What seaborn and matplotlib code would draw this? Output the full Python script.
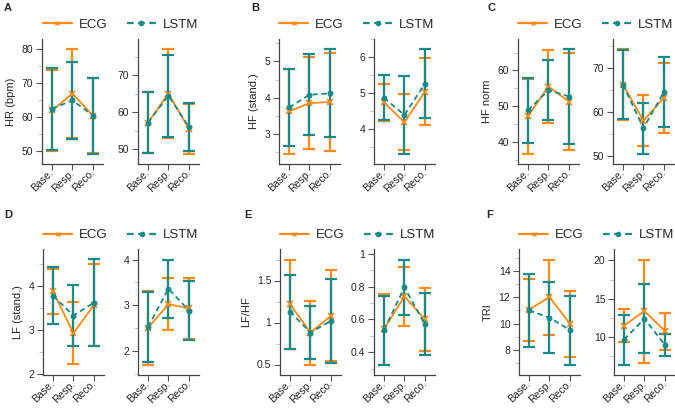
import matplotlib
matplotlib.use("Agg")
import matplotlib.pyplot as plt
import seaborn as sns
import pandas as pd
from matplotlib.lines import Line2D
from matplotlib.ticker import MultipleLocator, FuncFormatter

phases = ["Base.", "Resp.", "Reco."]

# mean and sd for each panel: [left subplot, right subplot]
hr_ecg = [[62.0, 67.0, 60.5], [57.2, 65.0, 55.5]]
hr_ecg_sd = [[12.0, 13.0, 11.0], [8.2, 12.0, 6.7]]
hr_lstm = [[62.5, 65.0, 60.5], [57.2, 64.5, 56.0]]
hr_lstm_sd = [[12.0, 11.4, 11.2], [8.2, 11.1, 6.6]]

hf_ecg = [[3.62, 3.85, 3.88], [4.75, 4.20, 5.05]]
hf_ecg_sd = [[1.16, 1.27, 1.34], [0.52, 0.77, 0.94]]
hf_lstm = [[3.73, 4.08, 4.12], [4.88, 4.40, 5.27]]
hf_lstm_sd = [[1.07, 1.11, 1.21], [0.63, 1.07, 0.95]]

hfn_ecg = [[47.2, 55.5, 51.3], [66.2, 58.0, 63.2]]
hfn_ecg_sd = [[10.5, 10.3, 13.5], [8.0, 5.8, 8.0]]
hfn_lstm = [[48.8, 54.5, 52.7], [66.2, 56.3, 64.5]]
hfn_lstm_sd = [[9.0, 8.3, 13.2], [7.9, 5.8, 7.9]]

lf_ecg = [[3.88, 2.93, 3.57], [2.50, 3.02, 2.93]]
lf_ecg_sd = [[0.51, 0.71, 0.93], [0.80, 0.57, 0.67]]
lf_lstm = [[3.78, 3.33, 3.62], [2.52, 3.36, 2.88]]
lf_lstm_sd = [[0.65, 0.69, 0.98], [0.76, 0.64, 0.65]]

lfhf_ecg = [[1.22, 0.88, 1.08], [0.54, 0.74, 0.60]]
lfhf_ecg_sd = [[0.53, 0.38, 0.54], [0.215, 0.18, 0.19]]
lfhf_lstm = [[1.13, 0.88, 1.02], [0.535, 0.795, 0.57]]
lfhf_lstm_sd = [[0.44, 0.32, 0.50], [0.21, 0.17, 0.19]]

tri_ecg = [[11.05, 12.0, 10.0], [11.5, 13.4, 10.8]]
tri_ecg_sd = [[2.35, 2.85, 2.5], [2.15, 6.7, 2.4]]
tri_lstm = [[11.0, 10.45, 9.5], [9.7, 12.4, 9.0]]
tri_lstm_sd = [[2.75, 2.67, 2.6], [3.25, 4.5, 1.4]]

ORANGE = "#ff8a14"
TEAL = "#168989"

sns.set_style("ticks")
plt.rcParams["font.family"] = ["Liberation Sans", "DejaVu Sans"]
plt.rcParams["font.size"] = 7.5

W, H = 675, 408
fig = plt.figure(figsize=(W / 100, H / 100), dpi=100)

panels = [
    ("A", "HR (bpm)", hr_ecg, hr_ecg_sd, hr_lstm, hr_lstm_sd, [10, 10], [41.7, 137.7], 0),
    ("B", "HF (stand.)", hf_ecg, hf_ecg_sd, hf_lstm, hf_lstm_sd, [1, 1], [278.7, 373.7], 0),
    ("C", "HF norm", hfn_ecg, hfn_ecg_sd, hfn_lstm, hfn_lstm_sd, [10, 10], [517.7, 612.7], 0),
    ("D", "LF (stand.)", lf_ecg, lf_ecg_sd, lf_lstm, lf_lstm_sd, [1, 1], [42.7, 137.7], 1),
    ("E", "LF/HF", lfhf_ecg, lfhf_ecg_sd, lfhf_lstm, lfhf_lstm_sd, [0.5, 0.2], [279.7, 373.7], 1),
    ("F", "TRI", tri_ecg, tri_ecg_sd, tri_lstm, tri_lstm_sd, [2, 5], [518.7, 613.7], 1),
]

rows = {0: (39, 164), 1: (249, 375)}
letter_x = {"A": 4, "B": 251, "C": 487, "D": 4, "E": 244, "F": 486}
styles = {
    "ECG": dict(color=ORANGE, marker="x", markersize=4, markeredgewidth=1.2,
                markeredgecolor=ORANGE),
    "LSTM": dict(color=TEAL, marker="o", markersize=3.5, dashes=(3, 2),
                 markeredgecolor=TEAL, markerfacecolor=TEAL),
}

for letter, ylabel, ecg, ecg_sd, lstm, lstm_sd, steps, lefts, row in panels:
    top, bot = rows[row]
    for side in range(2):
        ax = fig.add_axes([lefts[side] / W, 1 - bot / H, 61.5 / W, (bot - top) / H])
        df = pd.DataFrame({
            "phase": phases * 2,
            "value": ecg[side] + lstm[side],
            "sd": ecg_sd[side] + lstm_sd[side],
            "method": ["ECG"] * 3 + ["LSTM"] * 3,
        })
        for i, m in enumerate(["ECG", "LSTM"]):
            d = df[df["method"] == m]
            ax.errorbar(range(3), d["value"], yerr=d["sd"], fmt="none",
                        ecolor=styles[m]["color"], elinewidth=1.6, capsize=4.5,
                        capthick=1.6, zorder=2 + i)
        for m in ["ECG", "LSTM"]:
            d = df[df["method"] == m]
            sns.lineplot(data=d, x="phase", y="value", linewidth=1.3, ax=ax,
                         zorder=5, **styles[m])
        ax.set_xlim(-0.5, 2.5)
        ax.margins(y=0.1)
        ax.set_xticks(range(3))
        ax.set_xticklabels(phases, rotation=45, ha="right", va="center",
                           rotation_mode="anchor")
        ax.yaxis.set_major_locator(MultipleLocator(steps[side]))
        ax.yaxis.set_minor_locator(MultipleLocator(steps[side] / 2))
        ax.yaxis.set_major_formatter(FuncFormatter(lambda v, p: f"{v:g}"))
        ax.set_xlabel("")
        ax.set_ylabel(ylabel if side == 0 else "", fontsize=8)
        ax.tick_params(axis="both", which="major", length=4, width=0.8,
                       color="#555555", labelsize=7.5, pad=2)
        ax.tick_params(axis="x", pad=1)
        ax.tick_params(axis="y", which="minor", length=3, width=0.6, color="#bbbbbb")
        for s in ["left", "bottom"]:
            ax.spines[s].set_color("#444444")
            ax.spines[s].set_linewidth(0.9)
        sns.despine(ax=ax)
    # legend centered over the pair
    cx = (lefts[0] + lefts[1] + 61.5) / 2
    ly = 25 if row == 0 else 235
    handles = [
        Line2D([], [], color=ORANGE, lw=1.6, marker="x", markersize=3.5),
        Line2D([], [], color=TEAL, lw=1.6, ls=(0, (3, 2)), marker="o", markersize=3),
    ]
    fig.legend(handles, ["ECG", "LSTM"], loc="center", bbox_to_anchor=(cx / W, 1 - ly / H),
               ncol=2, frameon=False, fontsize=9.5, handlelength=2.2, columnspacing=1.5,
               handletextpad=0.5)
    fig.text(letter_x[letter] / W, 1 - (8 if row == 0 else 215) / H, letter,
             fontsize=8, fontweight="bold", va="center", ha="left")

fig.savefig("out.png", dpi=100)
